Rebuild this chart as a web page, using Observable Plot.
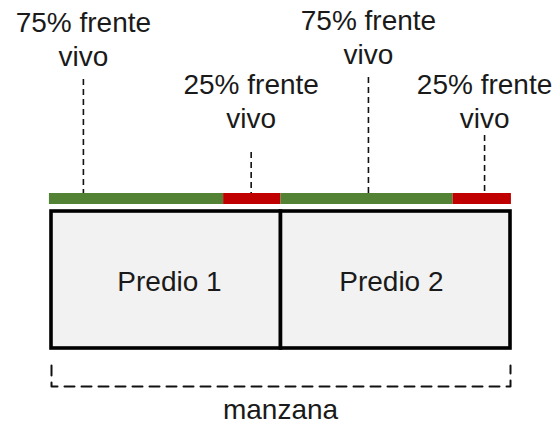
<!DOCTYPE html>
<html><head><meta charset="utf-8">
<script src="https://cdn.jsdelivr.net/npm/d3@7"></script>
<script src="https://cdn.jsdelivr.net/npm/@observablehq/plot@0.6"></script>
<style>body{margin:0;background:#fff}</style>
</head><body><div id="chart"></div>
<script>
// Two lots (predios) of one block (manzana), each 1 unit wide
const predios = ["Predio 1", "Predio 2"];
const predioStart = [0, 1];
const frenteShare = [0.75, 0.25];          // share of frontage: vivo / no-vivo
const frenteColors = ["#548235", "#c00000"];
const labelTexts = ["75% frente\nvivo", "25% frente\nvivo", "75% frente\nvivo", "25% frente\nvivo"];
const labelAt = [0.139, 0.870, 1.381, 1.887];  // where each leader line meets the frontage
const labelBase = [65, 127, 63, 127];          // baseline of last text line (layout px)
const leaderTop = [79, 152, 77, 135];
const predioLabelAt = [0.514, 1.481];
const blockLabel = "manzana";

// layout levels (px from top)
const barTop = 193, barBottom = 204, boxTop = 211, boxBottom = 348;
const bracketTop = 365, bracketBottom = 386;

const segs = [];
predioStart.forEach((s, i) => {
  let acc = s;
  frenteShare.forEach((f, j) => {
    segs.push({x1: acc, x2: acc + f, color: frenteColors[j]});
    acc += f;
  });
});
segs[0].x1 -= 0.009;                 // bar reaches the outer edge of the box stroke
segs[segs.length - 1].x2 += 0.004;
const boxes = predios.map((p, i) => ({x1: predioStart[i], x2: predioStart[i] + 1, label: p, lx: predioLabelAt[i]}));
const labels = labelTexts.map((t, i) => ({t, x: labelAt[i], y: labelBase[i], top: leaderTop[i]}));
const bracket = [
  {x: 0, y: bracketTop}, {x: 0, y: bracketBottom},
  {x: 2, y: bracketBottom}, {x: 2, y: bracketTop}
];

const chart = Plot.plot({
  width: 558, height: 426,
  margin: 0,
  x: {domain: [0, 2], range: [51, 510], axis: null},
  y: {domain: [0, 426], range: [0, 426], axis: null},
  style: {fontFamily: "'Liberation Sans', Arial, sans-serif", background: "#fff"},
  marks: [
    Plot.rect(segs, {x1: "x1", x2: "x2", y1: barTop, y2: barBottom, fill: "color"}),
    Plot.rect(boxes, {x1: "x1", x2: "x2", y1: boxTop, y2: boxBottom, fill: "#f2f2f2", stroke: "#000", strokeWidth: 3.6}),
    Plot.ruleX(labels, {x: "x", y1: "top", y2: barTop, stroke: "#111", strokeWidth: 1.6, strokeDasharray: "6,4"}),
    Plot.text(labels, {x: "x", y: "y", text: "t", fontSize: 28, lineHeight: 1.2, lineAnchor: "bottom", fill: "#1a1a1a"}),
    Plot.text(boxes, {x: "lx", y: 290, text: "label", fontSize: 28, lineAnchor: "bottom", fill: "#1a1a1a"}),
    Plot.line(bracket, {x: "x", y: "y", stroke: "#111", strokeWidth: 2, strokeDasharray: "10,7"}),
    Plot.text([blockLabel], {x: 0.998, y: 418, text: d => d, fontSize: 28, lineAnchor: "bottom", fill: "#1a1a1a"})
  ]
});
document.getElementById("chart").append(chart);
</script></body></html>
